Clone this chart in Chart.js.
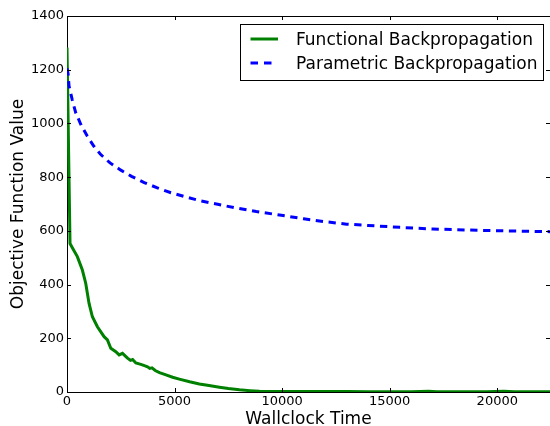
<!DOCTYPE html>
<html>
<head>
<meta charset="utf-8">
<script src="https://cdn.jsdelivr.net/npm/chart.js@4.4.0/dist/chart.umd.min.js"></script>
<style>
  html, body { margin: 0; padding: 0; background: #fff; }
  canvas { display: block; }
</style>
</head>
<body>
<canvas id="objChart" width="550" height="426"></canvas>
<script>
// values
var funcTime  = [0, 140, 300, 481, 714, 870, 1025, 1180, 1413, 1724, 1879, 2035, 2268, 2423, 2579, 2812, 2950, 3050, 3200, 3433, 3600, 3744, 3850, 3950, 4100, 4300, 4600, 4908, 5219, 5700, 6151, 6600, 7083, 7500, 8015, 8500, 8947, 9500, 10000, 11000, 12000, 13000, 14000, 15000, 16000, 16800, 17200, 18500, 19500, 20300, 20800, 22450];
var funcValue = [1283, 553, 530, 504, 454, 405, 330, 280, 243, 206, 194, 163, 150, 138, 144, 126, 118, 121, 108, 103, 98, 94, 88, 90, 80, 72, 64, 55, 48, 38, 30, 24, 18, 13, 8, 5, 3, 2, 2, 2, 1.5, 1.5, 1, 1, 1, 3, 1, 1, 1, 3, 1, 1];
var paramTime  = [0, 50, 93, 247, 405, 650, 946, 1250, 1570, 2000, 2502, 3000, 3588, 4200, 4832, 5500, 6200, 7000, 7800, 8800, 9879, 11000, 12000, 13000, 14000, 15470, 17000, 19200, 21000, 22450];
var paramValue = [1205, 1185, 1140, 1087, 1040, 995, 952, 915, 884, 853, 826, 803, 780, 760, 742, 727, 712, 699, 686, 672, 659, 645, 634, 625, 620, 613, 607, 602, 599, 597];
var seriesNames = ['Functional Backpropagation', 'Parametric Backpropagation'];
var xTicks = [0, 5000, 10000, 15000, 20000];
var yTicks = [0, 200, 400, 600, 800, 1000, 1200, 1400];

(function(){
  var FONT = '"DejaVu Sans", sans-serif';
  var green = '#008000';
  var blue = '#0000ff';

  function toPoints(xs, ys){
    return xs.map(function(x, i){ return { x: x, y: ys[i] }; });
  }

  // inside tick marks on all four spines, plus the top spine
  var framePlugin = {
    id: 'frame',
    afterDatasetsDraw: function(chart){
      var ctx = chart.ctx, a = chart.chartArea;
      var xs = chart.scales.x, ys = chart.scales.y;
      ctx.save();
      ctx.strokeStyle = '#000';
      ctx.lineWidth = 1;
      ctx.beginPath();
      ctx.moveTo(a.left, a.top + 0.5);
      ctx.lineTo(a.right, a.top + 0.5);
      xTicks.forEach(function(v){
        var px = Math.round(xs.getPixelForValue(v)) + 0.5;
        ctx.moveTo(px, a.bottom); ctx.lineTo(px, a.bottom - 4);
        ctx.moveTo(px, a.top); ctx.lineTo(px, a.top + 4);
      });
      yTicks.forEach(function(v){
        var py = Math.round(ys.getPixelForValue(v)) + 0.5;
        ctx.moveTo(a.left, py); ctx.lineTo(a.left + 4, py);
        ctx.moveTo(a.right, py); ctx.lineTo(a.right - 4, py);
      });
      ctx.stroke();
      ctx.restore();
    }
  };

  // matplotlib-style legend box, upper right
  var legendPlugin = {
    id: 'mplLegend',
    afterDraw: function(chart){
      var ctx = chart.ctx;
      ctx.save();
      ctx.fillStyle = '#fff';
      ctx.fillRect(240.5, 24.5, 303, 56);
      ctx.strokeStyle = '#000';
      ctx.lineWidth = 1;
      ctx.strokeRect(240.5, 24.5, 303, 56);

      ctx.lineWidth = 3;
      ctx.lineCap = 'butt';
      ctx.strokeStyle = green;
      ctx.beginPath(); ctx.moveTo(250.5, 39); ctx.lineTo(278, 39); ctx.stroke();
      ctx.strokeStyle = blue;
      ctx.setLineDash([7.5, 6]);
      ctx.beginPath(); ctx.moveTo(250.5, 63); ctx.lineTo(276, 63); ctx.stroke();
      ctx.setLineDash([]);

      ctx.fillStyle = '#000';
      ctx.font = '17px ' + FONT;
      ctx.textBaseline = 'alphabetic';
      ctx.textAlign = 'left';
      ctx.fillText(seriesNames[0], 296, 45);
      ctx.fillText(seriesNames[1], 296, 69);
      ctx.restore();
    }
  };

  new Chart(document.getElementById('objChart').getContext('2d'), {
    type: 'line',
    data: {
      datasets: [
        {
          label: seriesNames[0],
          data: toPoints(funcTime, funcValue),
          borderColor: green,
          borderWidth: 3,
          pointRadius: 0,
          tension: 0,
          fill: false,
          order: 1
        },
        {
          label: seriesNames[1],
          data: toPoints(paramTime, paramValue),
          borderColor: blue,
          borderWidth: 3,
          borderDash: [7.3, 5.6],
          borderCapStyle: 'butt',
          pointRadius: 0,
          tension: 0,
          fill: false,
          order: 0
        }
      ]
    },
    options: {
      responsive: false,
      animation: false,
      layout: { padding: { top: 16, right: 0, left: 0, bottom: 0 } },
      plugins: { legend: { display: false }, tooltip: { enabled: false } },
      scales: {
        x: {
          type: 'linear',
          min: 0,
          max: 22450,
          grid: { display: false, drawTicks: false },
          border: { display: true, color: '#000', width: 1 },
          afterBuildTicks: function(scale){
            scale.ticks = xTicks.map(function(v){ return { value: v }; });
          },
          afterFit: function(scale){ scale.height = 34; },
          ticks: {
            color: '#000',
            padding: 2,
            maxRotation: 0,
            font: { family: FONT, size: 13 },
            callback: function(v){ return String(v); }
          },
          title: {
            display: true,
            text: 'Wallclock Time',
            color: '#000',
            padding: { top: 0, bottom: -2 },
            font: { family: FONT, size: 17, lineHeight: 1 }
          }
        },
        y: {
          min: 0,
          max: 1400,
          grid: { display: false, drawTicks: false },
          border: { display: true, color: '#000', width: 1 },
          afterBuildTicks: function(scale){
            scale.ticks = yTicks.map(function(v){ return { value: v }; });
          },
          afterFit: function(scale){ scale.width = 67; },
          ticks: {
            color: '#000',
            padding: 3,
            font: { family: FONT, size: 13 },
            callback: function(v){ return String(v); }
          },
          title: {
            display: true,
            text: 'Objective Function Value',
            color: '#000',
            padding: { top: 10, bottom: 0 },
            font: { family: FONT, size: 17, lineHeight: 1 }
          }
        }
      }
    },
    plugins: [framePlugin, legendPlugin]
  });
})();
</script>
</body>
</html>
